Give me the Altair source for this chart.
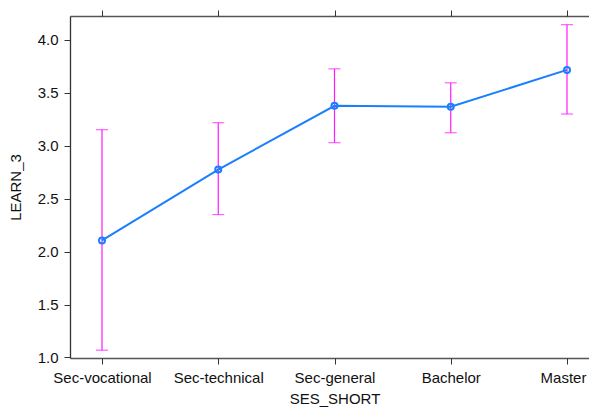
import altair as alt
import pandas as pd

categories = ["Sec-vocational", "Sec-technical", "Sec-general", "Bachelor", "Master"]
means = [2.106, 2.775, 3.378, 3.368, 3.717]
lower = [1.069, 2.350, 3.029, 3.123, 3.300]
upper = [3.152, 3.218, 3.727, 3.595, 4.144]

df = pd.DataFrame({"SES_SHORT": categories, "LEARN_3": means, "lo": lower, "hi": upper})
frame_df = pd.DataFrame({"f": [0.0, 1.0]})

FONT = "Liberation Sans"
FS = 15
FRAME = "#555555"
W, H = 519, 342


def xscale():
    return alt.Scale(type="point", domain=categories, range=[32, 497], padding=0)


yscale = alt.Scale(domain=[0.995, 4.226], nice=False, zero=False)

x_bottom = alt.X("SES_SHORT:N", scale=xscale(), sort=categories,
                 axis=alt.Axis(orient="bottom", title="SES_SHORT", labelAngle=0,
                               domain=False, tickSize=6, tickColor="#333333",
                               labelPadding=6, labelFontSize=FS, titleFontSize=FS,
                               titleFontWeight="normal", titlePadding=6,
                               labelOffset={"condition": {"test": "datum.value == 'Master'", "value": -4},
                                            "value": 0},
                               labelColor="#111111", titleColor="#111111",
                               labelFont=FONT, titleFont=FONT, grid=False))
x_top = alt.X("SES_SHORT:N", scale=xscale(), sort=categories,
              axis=alt.Axis(orient="top", title=None, labels=False, domain=False,
                            tickSize=6, tickColor="#333333", grid=False))


def x_none():
    return alt.X("SES_SHORT:N", scale=xscale(), sort=categories, axis=None)


yax = alt.Axis(orient="left", title="LEARN_3", values=[1.0, 1.5, 2.0, 2.5, 3.0, 3.5, 4.0],
               format=".1f", domain=True, domainColor="#333333", domainWidth=1.3,
               tickSize=6, tickColor="#333333",
               labelPadding=6, labelFontSize=FS, titleFontSize=FS,
               titleFontWeight="normal", titlePadding=14,
               labelColor="#111111", titleColor="#111111",
               labelFont=FONT, titleFont=FONT, grid=False)


def Y(field):
    return alt.Y(field, scale=yscale, axis=yax, title="LEARN_3")


base = alt.Chart(df)
MAG = "#ff1aff"
BLUE = "#1a7fff"

rules = base.mark_rule(color=MAG, strokeWidth=1.2).encode(x=x_bottom, y=Y("lo:Q"), y2="hi:Q")
caps_lo = base.mark_tick(color=MAG, orient="horizontal", size=12, thickness=1.2).encode(
    x=x_top, y=Y("lo:Q"))
caps_hi = base.mark_tick(color=MAG, orient="horizontal", size=12, thickness=1.2).encode(
    x=x_none(), y=Y("hi:Q"))
line = base.mark_line(color=BLUE, strokeWidth=2).encode(x=x_none(), y=Y("LEARN_3:Q"))
pts = base.mark_point(color=BLUE, filled=False, size=36, strokeWidth=2, opacity=1).encode(
    x=x_none(), y=Y("LEARN_3:Q"))


def frame_layer(orient):
    return alt.Chart(frame_df).mark_point(opacity=0).encode(
        x=alt.X("f:Q", scale=alt.Scale(domain=[0, 1], nice=False),
                axis=alt.Axis(orient=orient, title=None, labels=False, ticks=False,
                              grid=False, domain=True, domainColor=FRAME, domainWidth=1.3)))


chart = alt.layer(frame_layer("bottom"), frame_layer("top"), rules, caps_lo, caps_hi, line, pts
).resolve_scale(x="independent").resolve_axis(x="independent").properties(
    width=W, height=H, autosize=alt.AutoSizeParams(type="none"),
    padding={"left": 62, "top": 8, "right": 0, "bottom": 52}
).configure_view(strokeWidth=0).configure(background="white")

chart.save("out.html", embed_options={"renderer": "svg", "actions": False})
